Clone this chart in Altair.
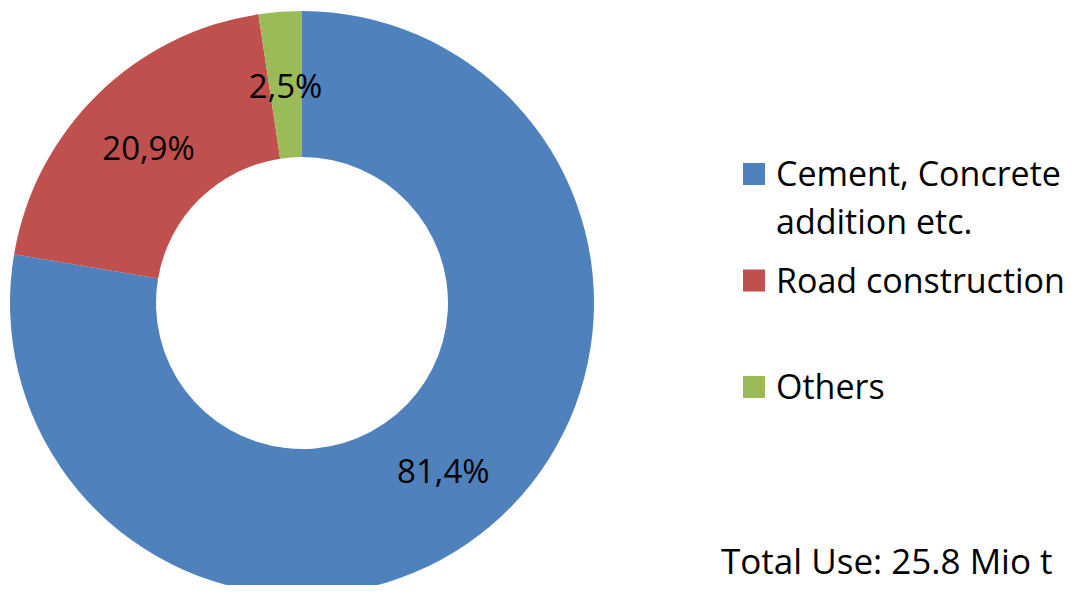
import altair as alt
import pandas as pd

categories = ["Cement, Concrete addition etc.", "Road construction", "Others"]
legend_labels = ["Cement, Concrete|addition etc.", "Road construction", "Others"]
values = [81.4, 20.9, 2.5]
value_labels = ["81,4%", "20,9%", "2,5%"]
colors = ["#4F81BD", "#C0504D", "#9BBB59"]
total_text = "Total Use: 25.8 Mio t"

FONT = "Open Sans"
FS = 34
W, H = 1066, 577

df = pd.DataFrame({
    "category": categories,
    "value": values,
    "label": value_labels,
    "legend": legend_labels,
    "idx": list(range(len(categories))),
})

color = alt.Color("category:N", scale=alt.Scale(domain=categories, range=colors), legend=None)
theta = alt.Theta("value:Q", stack=True)
order = alt.Order("idx:Q")

base = alt.Chart(df)

arcs = base.mark_arc(radius=292, innerRadius=146, stroke=None).encode(
    theta=theta, color=color, order=order,
    x=alt.value(294), y=alt.value(295),
)

labels = base.mark_text(radius=219, fontSize=33, font=FONT, color="black", dy=3).encode(
    theta=theta, order=order, text="label:N",
    x=alt.value(294), y=alt.value(295),
)

yleg = alt.Y("category:N", scale=alt.Scale(type="point", domain=categories, range=[166, 379], padding=0), axis=None)

leg_sq = base.mark_square(size=484, opacity=1).encode(
    x=alt.value(746), y=yleg, color=color,
)

leg_txt = base.transform_calculate(lines="split(datum.legend, '|')").mark_text(
    align="left", baseline="alphabetic", dy=12, fontSize=FS, font=FONT, color="black", lineHeight=48,
).encode(
    x=alt.value(768), y=yleg, text="lines:N",
)

tot = alt.Chart(pd.DataFrame({"t": [total_text]})).mark_text(
    align="left", baseline="alphabetic", fontSize=35, font=FONT, color="black",
).encode(x=alt.value(713), y=alt.value(566), text="t:N")

chart = alt.layer(arcs, labels, leg_sq, leg_txt, tot).properties(
    width=W, height=H, padding=0, autosize=alt.AutoSizeParams(type="none"),
).configure_view(stroke=None)

chart.save("out.html", embed_options={"renderer": "svg", "actions": False})
